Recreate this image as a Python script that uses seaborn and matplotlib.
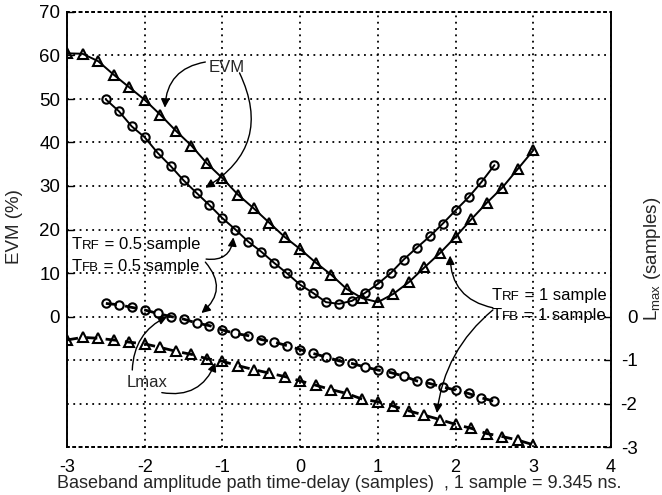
import numpy as np
import pandas as pd
import matplotlib
matplotlib.use("Agg")
import matplotlib.pyplot as plt
import seaborn as sns
from matplotlib.offsetbox import TextArea, HPacker, AnnotationBbox

# ---------------- data ----------------
x_t1 = [-3.0, -2.8, -2.6, -2.4, -2.2, -2.0, -1.8, -1.6, -1.4, -1.2, -1.0,
        -0.8, -0.6, -0.4, -0.2, 0.0, 0.2, 0.4, 0.6, 0.8, 1.0, 1.2, 1.4,
        1.6, 1.8, 2.0, 2.2, 2.4, 2.6, 2.8, 3.0]
evm_t1 = [60.5, 60.4, 58.7, 55.6, 52.7, 49.8, 46.4, 42.7, 39.3, 35.2, 31.8,
          28.0, 24.9, 21.6, 18.3, 15.5, 12.4, 9.6, 6.3, 4.2, 3.3, 5.2, 7.9,
          11.3, 14.6, 18.3, 22.3, 26.1, 29.6, 33.9, 38.2]
lmax_t1 = [-0.54, -0.48, -0.50, -0.54, -0.59, -0.63, -0.71, -0.80, -0.87, -0.97, -1.03,
           -1.13, -1.22, -1.30, -1.38, -1.48, -1.58, -1.68, -1.77, -1.90, -1.96, -2.06, -2.17,
           -2.27, -2.37, -2.48, -2.57, -2.69, -2.76, -2.84, -2.95]

x_t05 = [-2.5, -2.333, -2.167, -2.0, -1.833, -1.667, -1.5, -1.333, -1.167, -1.0, -0.833,
         -0.667, -0.5, -0.333, -0.167, 0.0, 0.167, 0.333, 0.5, 0.667, 0.833, 1.0, 1.167,
         1.333, 1.5, 1.667, 1.833, 2.0, 2.167, 2.333, 2.5]
evm_t05 = [49.9, 47.2, 43.7, 41.2, 37.6, 34.6, 31.3, 28.4, 25.6, 22.6, 20.0,
           17.2, 14.9, 12.3, 9.9, 7.3, 5.4, 3.3, 2.9, 3.6, 5.4, 7.5, 10.0,
           13.1, 15.8, 18.4, 21.3, 24.4, 27.4, 30.9, 34.8]
lmax_t05 = [0.30, 0.27, 0.21, 0.15, 0.07, 0.0, -0.06, -0.15, -0.21, -0.31, -0.39,
            -0.44, -0.53, -0.59, -0.67, -0.76, -0.85, -0.93, -1.02, -1.08, -1.16, -1.23, -1.29,
            -1.37, -1.48, -1.54, -1.62, -1.69, -1.77, -1.87, -1.95]

x_ticks = [-3, -2, -1, 0, 1, 2, 3, 4]
evm_ticks = [0, 10, 20, 30, 40, 50, 60, 70]
lmax_ticks = [-3, -2, -1, 0]

df_t1 = pd.DataFrame({"x": x_t1, "evm": evm_t1, "lmax": lmax_t1})
df_t05 = pd.DataFrame({"x": x_t05, "evm": evm_t05, "lmax": lmax_t05})

# ---------------- style ----------------
sns.set_style("white")
plt.rcParams["font.family"] = ["Liberation Sans", "DejaVu Sans"]
plt.rcParams["mathtext.fontset"] = "custom"
plt.rcParams["mathtext.rm"] = "Liberation Sans"

fig = plt.figure(figsize=(6.62, 4.95), dpi=100)
ax = fig.add_axes([67 / 662, 1 - 447 / 495, (611 - 67) / 662, (447 - 12) / 495])
ax2 = ax.twinx()

mk = dict(markerfacecolor="none", markeredgecolor="k", markeredgewidth=1.5, color="k")

sns.lineplot(data=df_t1, x="x", y="evm", ax=ax, marker="^", markersize=7,
             linewidth=1.4, **mk)
sns.lineplot(data=df_t05, x="x", y="evm", ax=ax, marker="o", markersize=6,
             linewidth=1.4, **mk)
sns.lineplot(data=df_t1, x="x", y="lmax", ax=ax2, marker="^", markersize=7,
             linewidth=2.0, linestyle=(0, (4, 3)), **mk)
sns.lineplot(data=df_t05, x="x", y="lmax", ax=ax2, marker="o", markersize=6,
             linewidth=2.0, linestyle=(0, (4, 3)), **mk)

ax.set_xlim(-3, 4)
ax.set_ylim(-30, 70)
ax2.set_ylim(-3, 7)
ax.set_xticks(x_ticks)
ax.set_xticklabels([str(v) for v in x_ticks])
ax.set_yticks(evm_ticks)
ax.set_yticklabels([str(v) for v in evm_ticks])
ax.set_yticks([-20, -10], minor=True)
ax2.set_yticks(lmax_ticks)
ax2.set_yticklabels([str(v) for v in lmax_ticks])

ax.grid(True, which="both", axis="y", color="k", linestyle=(0, (1, 2.5)), linewidth=1.3)
ax.grid(True, which="major", axis="x", color="k", linestyle=(0, (1, 2.5)), linewidth=1.3)
ax.tick_params(which="minor", left=False, length=0)
ax.tick_params(axis="y", direction="in", length=5, width=1, colors="k",
               labelsize=13.5, pad=5)
ax.tick_params(axis="x", direction="in", length=5, width=1, colors="k",
               labelsize=13, pad=9, top=False)
ax2.tick_params(axis="y", direction="in", length=5, width=1, colors="k",
                labelsize=13.5, pad=19)
for lbl in ax2.get_yticklabels():
    lbl.set_horizontalalignment("right")

for a in (ax, ax2):
    for s in ("left", "right"):
        a.spines[s].set_color("k")
        a.spines[s].set_linewidth(1.2)
    for s in ("top", "bottom"):
        a.spines[s].set_color("k")
        a.spines[s].set_linewidth(1.3)
        a.spines[s].set_linestyle((0, (1, 2.5)))

ax.set_xlabel("Baseband amplitude path time-delay (samples)  , 1 sample = 9.345 ns.",
              fontsize=13, labelpad=-1)
ax.set_ylabel("EVM (%)", fontsize=13.5)
ax.yaxis.label.set_verticalalignment("center")
ax.yaxis.set_label_coords(-0.096, 0.506)
ax2.set_ylabel(r"L$_{\mathregular{max}}$ (samples)", fontsize=13.5)
ax2.yaxis.label.set_verticalalignment("center")
ax2.yaxis.set_label_coords(1.077, 0.432)

# ---------------- annotations ----------------
aprops = dict(arrowstyle="-|>", color="k", lw=1.0, mutation_scale=13,
              shrinkA=0, shrinkB=0)

ax.text(-0.94, 57.2, "EVM", fontsize=12, ha="center", va="center")
ax.annotate("", xy=(-1.74, 48.0), xytext=(-1.22, 58.5),
            arrowprops=dict(connectionstyle="arc3,rad=0.4", **aprops))
ax.annotate("", xy=(-1.22, 29.6), xytext=(-0.78, 56.0),
            arrowprops=dict(connectionstyle="arc3,rad=-0.45", **aprops))

ax.text(-1.97, -15.1, "Lmax", fontsize=12, ha="center", va="center")
ax.annotate("", xy=(-1.71, 0.0), xytext=(-2.16, -12.3),
            arrowprops=dict(connectionstyle="arc3,rad=-0.3", **aprops))
ax.annotate("", xy=(-1.09, -10.6), xytext=(-1.78, -17.5),
            arrowprops=dict(connectionstyle="arc3,rad=0.4", **aprops))


def tlabel(xd, yd, sub, rest):
    parts = [TextArea("T", textprops=dict(fontsize=12, color="k")),
             TextArea(sub, textprops=dict(fontsize=9.5, color="k")),
             TextArea(rest, textprops=dict(fontsize=12, color="k"))]
    box = HPacker(children=parts, align="baseline", pad=0, sep=0)
    ab = AnnotationBbox(box, (xd, yd), xycoords="data", box_alignment=(0, 0.5),
                        frameon=False, pad=0)
    ax.add_artist(ab)


tlabel(-2.94, 16.5, "RF", " = 0.5 sample")
tlabel(-2.94, 11.6, "FB", " = 0.5 sample")
ax.annotate("", xy=(-0.86, 18.2), xytext=(-1.21, 13.2),
            arrowprops=dict(connectionstyle="arc3,rad=0.5", **aprops))
ax.annotate("", xy=(-1.27, 0.8), xytext=(-1.22, 12.5),
            arrowprops=dict(connectionstyle="arc3,rad=-0.5", **aprops))

tlabel(2.47, 4.9, "RF", " = 1 sample")
tlabel(2.47, 0.3, "FB", " = 1 sample")
ax.annotate("", xy=(1.93, 14.0), xytext=(2.48, 2.0),
            arrowprops=dict(connectionstyle="arc3,rad=-0.4", **aprops))
ax.annotate("", xy=(1.76, -22.2), xytext=(2.48, 1.5),
            arrowprops=dict(connectionstyle="arc3,rad=0.2", **aprops))

fig.savefig("out.png", dpi=100)
